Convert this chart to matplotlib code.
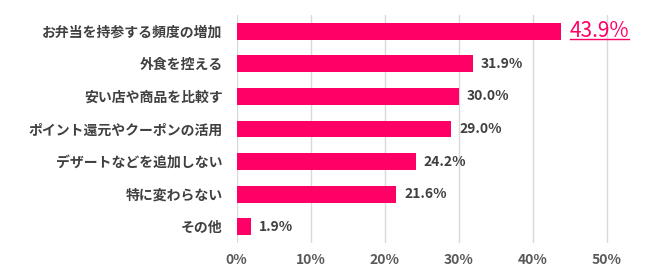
import matplotlib
matplotlib.use('Agg')
import matplotlib.pyplot as plt
from matplotlib.lines import Line2D

plt.rcParams['font.family'] = ['Noto Sans CJK JP', 'DejaVu Sans']

categories = ['お弁当を持参する頻度の増加', '外食を控える', '安い店や商品を比較す',
              'ポイント還元やクーポンの活用', 'デザートなどを追加しない',
              '特に変わらない', 'その他']
values = [43.9, 31.9, 30.0, 29.0, 24.2, 21.6, 1.9]
xticks = [0, 10, 20, 30, 40, 50]

bar_color = '#FF0066'
text_color = '#404040'

fig = plt.figure(figsize=(6.5, 2.78), dpi=100)
ax = fig.add_axes([0.364, 0.126, 0.626, 0.82])

y = list(range(len(categories)))
ax.barh(y, values, height=0.52, color=bar_color, zorder=3)

ax.set_ylim(len(categories) - 0.5, -0.5)
ax.set_xlim(0, 55)
ax.set_xticks(xticks)
ax.set_xticklabels([f'{t}%' for t in xticks], fontsize=10, fontweight='bold', color='#595959')
ax.set_yticks(y)
ax.set_yticklabels(categories, fontsize=10, fontweight='bold', color=text_color)
ax.tick_params(axis='both', length=0)
ax.tick_params(axis='y', pad=10)
ax.tick_params(axis='x', pad=7)
ax.grid(axis='x', color='#d9d9d9', linewidth=1, zorder=0)
for s in ax.spines.values():
    s.set_visible(False)

top_label = None
for i, v in enumerate(values):
    if i == 0:
        top_label = ax.annotate(f'{v:.1f}%', (v, i), xytext=(6, 0), textcoords='offset points',
                                va='center', ha='left', fontsize=15, color=bar_color)
    else:
        ax.annotate(f'{v:.1f}%', (v, i), xytext=(6, 0), textcoords='offset points',
                    va='center', ha='left', fontsize=10, fontweight='bold', color=text_color)

# underline the highlighted value
fig.canvas.draw()
bb = top_label.get_window_extent().transformed(fig.transFigure.inverted())
fig.add_artist(Line2D([bb.x0, bb.x1], [bb.y0 + 0.012, bb.y0 + 0.012],
                      transform=fig.transFigure, color=bar_color, linewidth=1))

fig.savefig('out.png', dpi=100)
